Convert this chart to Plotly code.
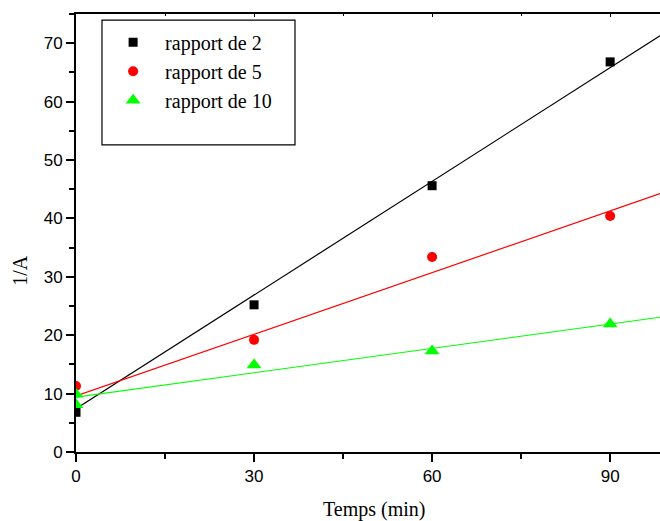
import numpy as np
import plotly.graph_objects as go

# Measured points: time (min) vs 1/A for each ratio
temps = [0, 30, 60, 90]
temps_r10 = [0, 0, 30, 60, 90]
inv_a_r2 = [6.8, 25.2, 45.6, 66.8]
inv_a_r5 = [11.3, 19.2, 33.4, 40.4]
inv_a_r10 = [9.9, 8.1, 14.9, 17.3, 21.9]

# Linear fits (intercept, slope) for each ratio
fit_r2 = (7.4, 0.649)
fit_r5 = (9.6, 0.352)
fit_r10 = (9.4, 0.139)

x_max = 98.4
y_max = 75
x_fit = np.array([0.0, x_max])

serif = "Liberation Serif, Times New Roman, serif"
sans = "Liberation Sans, Arial, sans-serif"

fig = go.Figure()

series = [
    ("rapport de 2", temps, inv_a_r2, fit_r2, "black", "square", 9),
    ("rapport de 5", temps, inv_a_r5, fit_r5, "#ff0000", "circle", 10),
    ("rapport de 10", temps_r10, inv_a_r10, fit_r10, "#00ff00", "triangle-up", 13),
]

for name, xs, ys, (b, m), color, symbol, size in series:
    fig.add_trace(go.Scatter(
        x=x_fit, y=b + m * x_fit, mode="lines",
        line=dict(color=color, width=1.2), showlegend=False, hoverinfo="skip",
    ))

for name, xs, ys, (b, m), color, symbol, size in series:
    fig.add_trace(go.Scatter(
        x=xs, y=ys, mode="markers", name=name,
        marker=dict(color=color, symbol=symbol, size=size, line=dict(width=0)),
        cliponaxis=True,
    ))

# invisible trace carrying the top axis
fig.add_trace(go.Scatter(x=[0], y=[0], xaxis="x2", mode="markers",
                         marker=dict(opacity=0), showlegend=False, hoverinfo="skip"))

fig.update_layout(
    width=660, height=521,
    margin=dict(l=76, r=0, t=14, b=69),
    paper_bgcolor="white", plot_bgcolor="white",
    showlegend=True,
    legend=dict(
        x=0.043, y=0.98, xanchor="left", yanchor="top",
        font=dict(family=serif, size=20, color="black"),
        itemwidth=54, bgcolor="rgba(0,0,0,0)", borderwidth=0,
        tracegroupgap=0,
    ),
    xaxis=dict(
        range=[0, x_max], showgrid=False, zeroline=False,
        showline=True, linecolor="black", linewidth=2,
        ticks="outside", ticklen=8, tickwidth=2, tickcolor="black",
        tickvals=[0, 30, 60, 90],
        minor=dict(ticks="outside", ticklen=5, tickwidth=2, tickcolor="black", dtick=15, tick0=0),
        tickfont=dict(family=sans, size=17, color="black"),
    ),
    xaxis2=dict(
        range=[0, x_max], overlaying="x", side="top", anchor="y",
        showgrid=False, zeroline=False, showticklabels=False,
        showline=True, linecolor="black", linewidth=2,
        ticks="inside", ticklen=3, tickwidth=1, tickcolor="black",
        tickvals=[0, 30, 60, 90],
        minor=dict(ticks="inside", ticklen=2, tickwidth=1, tickcolor="black", dtick=15, tick0=0),
    ),
    yaxis=dict(
        range=[0, y_max], showgrid=False, zeroline=False,
        showline=True, linecolor="black", linewidth=2,
        ticks="outside", ticklen=8, tickwidth=2, tickcolor="black",
        dtick=10, tick0=0,
        minor=dict(ticks="outside", ticklen=5, tickwidth=2, tickcolor="black", dtick=5),
        tickfont=dict(family=sans, size=17, color="black"),
    ),
    shapes=[dict(
        type="rect", xref="paper", yref="paper",
        x0=0.0445, x1=0.375, y0=0.701, y1=0.986,
        line=dict(color="black", width=1.2), fillcolor="rgba(0,0,0,0)",
    )],
    annotations=[
        dict(text="Temps (min)", xref="paper", yref="paper", x=0.51, y=-0.132,
             xanchor="center", yanchor="middle", showarrow=False,
             font=dict(family=serif, size=20, color="black")),
        dict(text="1/A", xref="paper", yref="paper", x=-0.096, y=0.416,
             xanchor="center", yanchor="middle", showarrow=False, textangle=-90,
             font=dict(family=serif, size=20, color="black")),
    ],
)

fig.write_html("out.html")
